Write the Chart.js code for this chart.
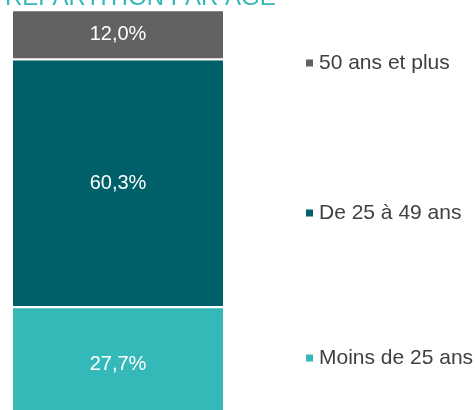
<!DOCTYPE html>
<html>
<head>
<meta charset="utf-8">
<script src="https://cdn.jsdelivr.net/npm/chart.js@4"></script>
<style>
body { margin: 0; background: #fff; }
#wrap { position: relative; width: 475px; height: 410px; overflow: hidden; }
#chart { position: absolute; left: 0; top: -20px; }
</style>
</head>
<body>
<div id="wrap"><canvas id="chart" width="475" height="445"></canvas></div>
<script>
const titre = 'RÉPARTITION PAR ÂGE';
const categories = ['Répartition'];
const tranches = ['Moins de 25 ans', 'De 25 à 49 ans', '50 ans et plus'];
const parts = [27.7, 60.3, 12.0];
const couleurs = ['#35b8b8', '#00606a', '#626262'];

// hauteur des entrées de légende dans le canvas
const legendeY = [378, 233, 83];
const police = '"Liberation Sans", Arial, sans-serif';

// libellés dans les barres + titre + légende à droite
const decor = {
    id: 'decor',
    afterDatasetsDraw(chart) {
        const ctx = chart.ctx;
        ctx.save();
        ctx.font = '20px ' + police;
        ctx.fillStyle = '#ffffff';
        ctx.textAlign = 'center';
        ctx.textBaseline = 'middle';
        chart.data.datasets.forEach((ds, i) => {
            const bar = chart.getDatasetMeta(i).data[0];
            const y = (bar.y + bar.base) / 2;
            ctx.fillText(ds.data[0].toFixed(1).replace('.', ',') + '%', bar.x, y);
        });
        ctx.restore();
    },
    afterDraw(chart) {
        const ctx = chart.ctx;
        ctx.save();
        ctx.font = '24px ' + police;
        ctx.fillStyle = '#35b8b8';
        ctx.textAlign = 'left';
        ctx.textBaseline = 'alphabetic';
        ctx.fillText(titre, 5, 24.5);

        ctx.font = '21px ' + police;
        ctx.textBaseline = 'middle';
        chart.data.datasets.forEach((ds, i) => {
            const y = legendeY[i];
            ctx.fillStyle = ds.backgroundColor;
            ctx.fillRect(306, y - 3.5, 7, 7);
            ctx.fillStyle = '#404040';
            ctx.fillText(ds.label, 319, y);
        });
        ctx.restore();
    }
};

const chart = new Chart(document.getElementById('chart').getContext('2d'), {
    type: 'bar',
    data: {
        labels: categories,
        datasets: tranches.map((t, i) => ({
            label: t,
            data: [parts[i]],
            backgroundColor: couleurs[i],
            borderColor: '#ffffff',
            borderWidth: { top: 1.5, bottom: 1.5, left: 0, right: 0 },
            borderSkipped: false,
            barPercentage: 1,
            categoryPercentage: 1,
        })),
    },
    options: {
        responsive: false,
        animation: false,
        layout: { padding: { left: 13, right: 252, top: 30, bottom: 4 } },
        plugins: {
            legend: { display: false },
            tooltip: { enabled: false },
        },
        scales: {
            x: { stacked: true, display: false },
            y: {
                stacked: true,
                min: 0,
                max: 100,
                ticks: { display: false },
                grid: { display: false, drawTicks: false },
                border: { display: true, color: '#d9d9d9', width: 1 },
            },
        },
    },
    plugins: [decor],
});
</script>
</body>
</html>
